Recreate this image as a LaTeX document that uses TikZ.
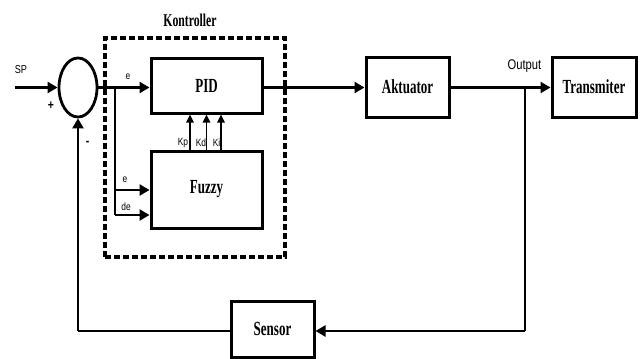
\documentclass[tikz,border=0pt]{standalone}
\usepackage{fontspec}
\setmainfont{Liberation Serif}
\setsansfont[FakeStretch=0.8]{Liberation Sans}
\newfontfamily\boxfont[FakeStretch=0.65]{Liberation Serif}
\usetikzlibrary{arrows.meta,shapes.geometric}
\begin{document}
\begin{tikzpicture}[x=1pt,y=-1pt,
  blk/.style={draw,line width=3pt,fill=white,font=\boxfont\bfseries\fontsize{20}{20}\selectfont,inner sep=0pt},
  conn/.style={line width=2.4pt},
  arr/.style={conn,-{Triangle[length=10pt,width=11pt]}},
  karr/.style={line width=1.5pt,-{Triangle[length=8pt,width=7.5pt]}},
  lbl/.style={font=\sffamily\fontsize{11.5}{11.5}\selectfont,inner sep=0pt},
  sml/.style={font=\sffamily\fontsize{10.5}{10.5}\selectfont,inner sep=0pt},
  sgn/.style={font=\sffamily\bfseries\fontsize{13}{13}\selectfont,inner sep=0pt},
]
\useasboundingbox (0,0) rectangle (643,359);
% controller frame
\node[draw,line width=3.6pt,dash pattern=on 6pt off 3pt,minimum width=180pt,minimum height=219pt,inner sep=0pt] (ctrl) at (195,147.5) {};
\node[font=\boxfont\bfseries\fontsize{18}{18}\selectfont,inner sep=0pt] (ktitle) at (190,20) {Kontroller};
% summing junction
\node[draw,ellipse,line width=2.8pt,minimum width=38pt,minimum height=59pt,inner sep=0pt] (sum) at (78,87.5) {};
% blocks
\node[blk,minimum width=111pt,minimum height=55pt] (pid) at (206.5,85.5) {PID};
\node[blk,minimum width=111pt,minimum height=77pt] (fuzzy) at (206.5,189.5) {Fuzzy};
\node[blk,minimum width=83pt,minimum height=60pt] (akt) at (407.5,87) {Aktuator};
\node[blk,minimum width=84pt,minimum height=60pt] (trans) at (594,87) {Transmiter};
\node[blk,minimum width=83pt,minimum height=56pt] (sensor) at (272.5,329) {Sensor};
% coordinates
\coordinate (sp) at (15,87.5);
\coordinate (br) at (115,87.5);
\coordinate (bre) at (115,190);
\coordinate (brde) at (115,215);
\coordinate (out) at (525,87.5);
\coordinate (outb) at (525,331);
\coordinate (fbl) at (78,331);
% main path
\draw[arr] (sp) -- (sum.west);
\draw[arr] (sum.east) -- (sum.east -| pid.west);
\draw[arr] (pid.east |- sum.east) -- (akt.west |- sum.east);
\draw[arr] (akt.east |- out) -- (trans.west |- out);
% branch to fuzzy
\draw[line width=1.6pt] (br) -- (brde);
\draw[arr] (bre) -- (bre -| fuzzy.west);
\draw[arr] (brde) -- (brde -| fuzzy.west);
% gains
\draw[karr] (fuzzy.north -| 190,0) -- (pid.south -| 190,0);
\draw[karr] (fuzzy.north -| 206.5,0) -- (pid.south -| 206.5,0);
\draw[karr] (fuzzy.north -| 221,0) -- (pid.south -| 221,0);
% feedback
\draw[conn] (out) -- (outb);
\draw[arr] (outb) -- (sensor.east |- outb);
\draw[conn] (sensor.west |- fbl) -- (fbl);
\draw[arr] (fbl) -- (sum.south);
% labels
\node[lbl] (lsp) at (21,70) {SP};
\node[sgn] (lplus) at (51,106) {+};
\node[sgn] (lminus) at (87.5,143) {-};
\node[sml] (le1) at (128,77) {e};
\node[sml] (le2) at (125,180) {e};
\node[sml] (lde) at (126,207) {de};
\node[sml] (lkp) at (183,143) {Kp};
\node[sml] (lkd) at (201,143) {Kd};
\node[sml] (lki) at (216.5,143) {Ki};
\node[font=\sffamily\fontsize{14}{14}\selectfont,inner sep=0pt] (lout) at (524.5,66) {Output};
\end{tikzpicture}
\end{document}
